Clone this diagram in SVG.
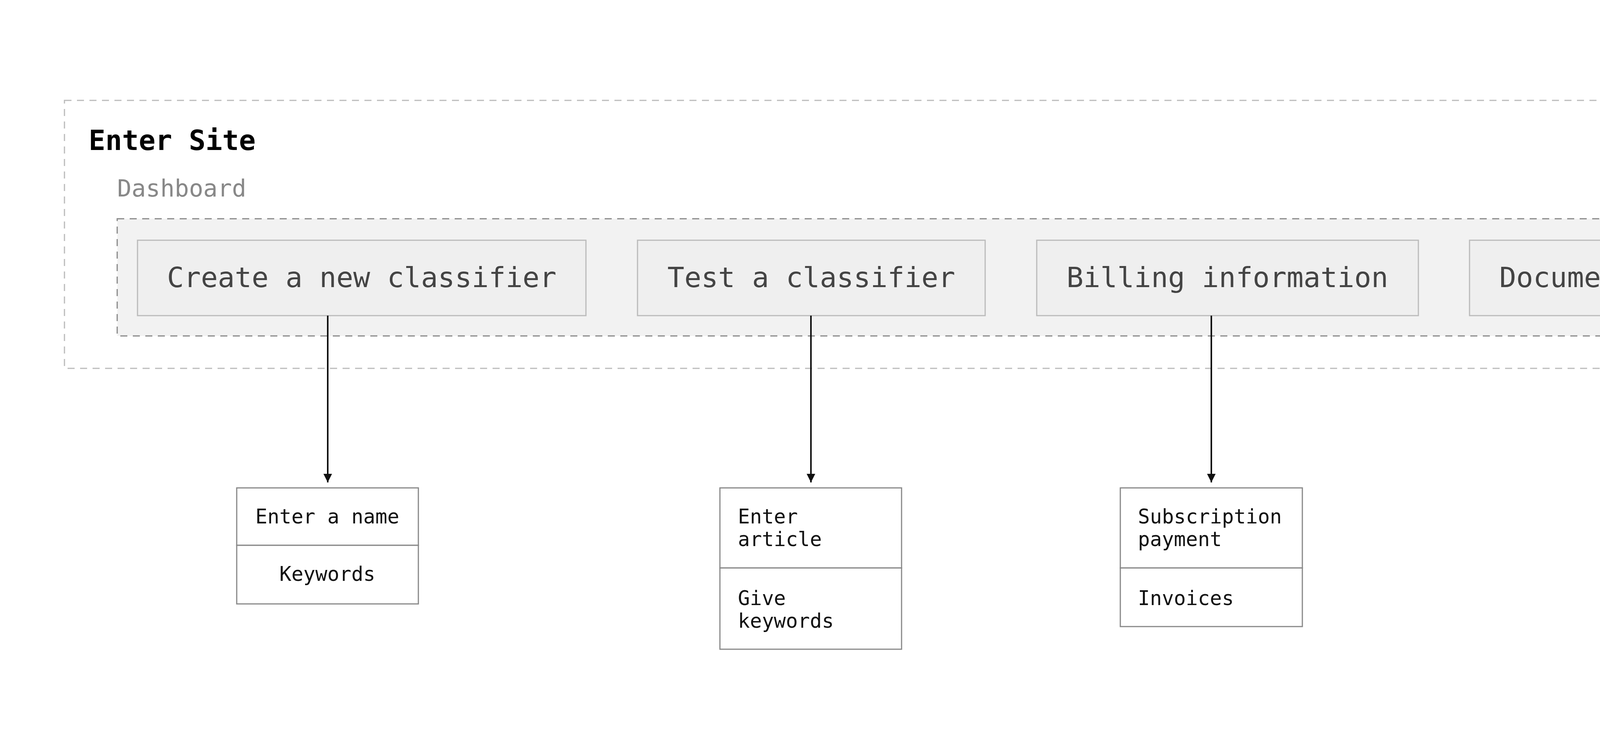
<svg xmlns="http://www.w3.org/2000/svg" width="4800" height="1920" viewBox="0 0 4800 1920">
<style>
text{font-family:"DejaVu Sans Mono","Liberation Mono",monospace}
.top{fill:#efefef;stroke:#bbb;stroke-width:3}
.tt{font-size:72px;fill:#444;text-anchor:middle;dominant-baseline:central}
.sub{fill:#fff;stroke:#888;stroke-width:3}
.st{font-size:51px;fill:#111;dominant-baseline:central}
.c{stroke:#111;stroke-width:4;fill:none;marker-end:url(#ah)}
</style>
<defs><marker id="ah" viewBox="0 0 10 10" refX="10" refY="5" markerWidth="22" markerHeight="26" orient="auto" markerUnits="userSpaceOnUse"><path d="M0,0L10,5L0,10z" fill="#111"/></marker></defs>
<rect width="4800" height="1920" fill="#fff"/>
<g id="enter-site">
<rect x="165" y="257" width="4470" height="686" fill="none" stroke="#bbb" stroke-width="3" stroke-dasharray="18 14"/>
<text x="227" y="384" font-size="71" font-weight="bold" fill="#000">Enter Site</text>
</g>
<g id="dashboard">
<text x="300" y="503" font-size="61" fill="#888">Dashboard</text>
<rect x="300" y="560" width="4231" height="300" fill="#f2f2f2" stroke="#888" stroke-width="3" stroke-dasharray="18 14"/>
</g>
<g id="create"><rect class="top" x="352" y="615" width="1148" height="193"/><text class="tt" x="926" y="710">Create a new classifier</text></g>
<g id="test"><rect class="top" x="1632" y="615" width="890" height="193"/><text class="tt" x="2077" y="710">Test a classifier</text></g>
<g id="billing"><rect class="top" x="2654" y="615" width="977" height="193"/><text class="tt" x="3142" y="710">Billing information</text></g>
<g id="docs"><rect class="top" x="3762" y="615" width="717" height="193"/><text class="tt" x="4120" y="710">Documentation</text></g>
<g id="connectors">
<path class="c" d="M839 808V1235"/>
<path class="c" d="M2076 808V1235"/>
<path class="c" d="M3101 808V1235"/>
</g>
<g id="name-box">
<rect class="sub" x="606" y="1249" width="465" height="147"/><rect class="sub" x="606" y="1396" width="465" height="150"/>
<text class="st" x="838" y="1322" text-anchor="middle">Enter a name</text>
<text class="st" x="838" y="1469" text-anchor="middle">Keywords</text>
</g>
<g id="article-box">
<rect class="sub" x="1843" y="1249" width="465" height="205"/><rect class="sub" x="1843" y="1454" width="465" height="208"/>
<text class="st" x="1889" y="1322">Enter</text><text class="st" x="1889" y="1380">article</text>
<text class="st" x="1889" y="1531">Give</text><text class="st" x="1889" y="1589">keywords</text>
</g>
<g id="billing-box">
<rect class="sub" x="2868" y="1249" width="466" height="205"/><rect class="sub" x="2868" y="1454" width="466" height="150"/>
<text class="st" x="2913" y="1322">Subscription</text><text class="st" x="2913" y="1380">payment</text>
<text class="st" x="2913" y="1531">Invoices</text>
</g>
</svg>
